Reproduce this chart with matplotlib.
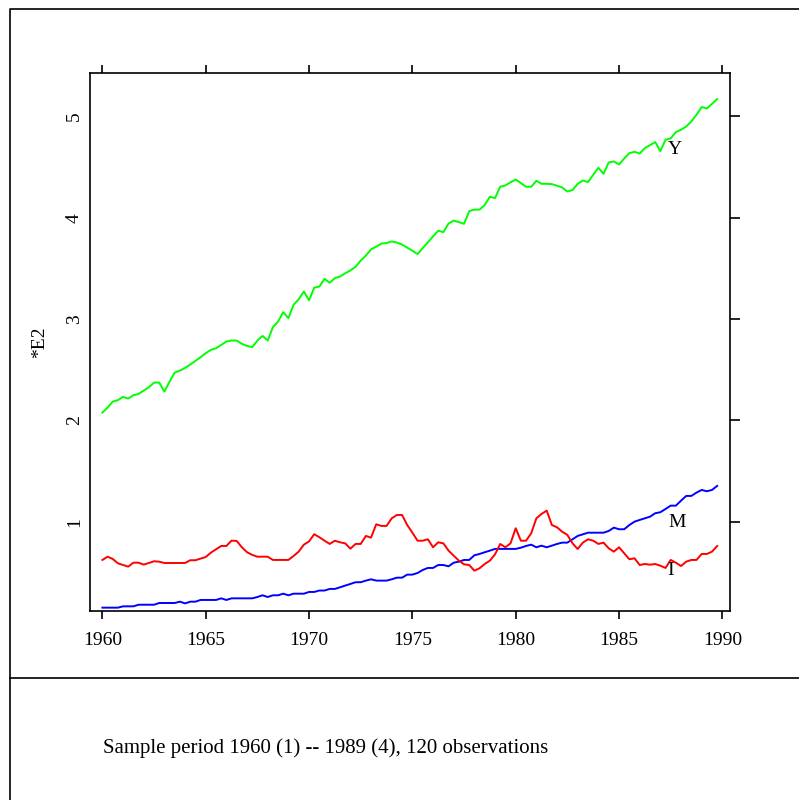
"""Y, M and I series, quarterly 1960-1989"""

import numpy as np
import matplotlib
matplotlib.use("Agg")
import matplotlib.pyplot as plt
from matplotlib.lines import Line2D

START_YEAR = 1960
N_OBS = 120

Y = [2.077, 2.126, 2.185, 2.199, 2.232, 2.215, 2.248, 2.261, 2.294, 2.327,
     2.373, 2.373, 2.284, 2.383, 2.472, 2.491, 2.518, 2.551, 2.587, 2.623,
     2.663, 2.696, 2.712, 2.745, 2.778, 2.788, 2.788, 2.755, 2.735, 2.722,
     2.788, 2.834, 2.788, 2.920, 2.975, 3.068, 3.009, 3.140, 3.196, 3.272,
     3.185, 3.310, 3.321, 3.398, 3.358, 3.404, 3.420, 3.452, 3.480, 3.516,
     3.577, 3.627, 3.688, 3.715, 3.745, 3.750, 3.766, 3.755, 3.735, 3.705,
     3.675, 3.642, 3.700, 3.757, 3.817, 3.872, 3.858, 3.943, 3.972, 3.957,
     3.940, 4.065, 4.080, 4.080, 4.126, 4.207, 4.194, 4.306, 4.319, 4.350,
     4.378, 4.342, 4.306, 4.306, 4.365, 4.335, 4.335, 4.332, 4.316, 4.299,
     4.259, 4.273, 4.335, 4.368, 4.352, 4.424, 4.493, 4.434, 4.546, 4.556,
     4.526, 4.585, 4.638, 4.651, 4.634, 4.688, 4.717, 4.747, 4.658, 4.770,
     4.783, 4.846, 4.869, 4.901, 4.951, 5.017, 5.093, 5.079, 5.125, 5.172]

I = [0.622, 0.654, 0.632, 0.589, 0.572, 0.556, 0.595, 0.595, 0.576, 0.592,
     0.609, 0.605, 0.592, 0.592, 0.592, 0.592, 0.592, 0.619, 0.619, 0.635,
     0.651, 0.694, 0.727, 0.760, 0.760, 0.813, 0.809, 0.747, 0.698, 0.672,
     0.654, 0.654, 0.654, 0.622, 0.622, 0.622, 0.622, 0.661, 0.704, 0.773,
     0.805, 0.876, 0.846, 0.812, 0.780, 0.812, 0.796, 0.786, 0.733, 0.780,
     0.780, 0.859, 0.842, 0.974, 0.958, 0.958, 1.033, 1.066, 1.066, 0.967,
     0.891, 0.812, 0.812, 0.826, 0.747, 0.796, 0.786, 0.714, 0.664, 0.615,
     0.579, 0.572, 0.516, 0.540, 0.582, 0.615, 0.678, 0.780, 0.747, 0.786,
     0.935, 0.812, 0.812, 0.885, 1.033, 1.076, 1.109, 0.967, 0.944, 0.901,
     0.869, 0.786, 0.730, 0.793, 0.826, 0.812, 0.780, 0.793, 0.737, 0.704,
     0.747, 0.688, 0.629, 0.638, 0.572, 0.582, 0.575, 0.582, 0.565, 0.543,
     0.622, 0.595, 0.562, 0.605, 0.622, 0.622, 0.681, 0.681, 0.704, 0.760]

M = [0.151, 0.151, 0.151, 0.151, 0.164, 0.164, 0.164, 0.180, 0.180, 0.180,
     0.180, 0.197, 0.197, 0.197, 0.197, 0.210, 0.193, 0.210, 0.210, 0.227,
     0.227, 0.227, 0.227, 0.243, 0.227, 0.243, 0.243, 0.243, 0.243, 0.243,
     0.256, 0.273, 0.256, 0.273, 0.273, 0.289, 0.273, 0.289, 0.289, 0.289,
     0.306, 0.306, 0.320, 0.320, 0.336, 0.336, 0.352, 0.369, 0.385, 0.402,
     0.402, 0.418, 0.431, 0.418, 0.418, 0.418, 0.431, 0.447, 0.447, 0.477,
     0.477, 0.493, 0.523, 0.543, 0.543, 0.572, 0.572, 0.559, 0.595, 0.605,
     0.622, 0.622, 0.668, 0.681, 0.698, 0.714, 0.731, 0.731, 0.731, 0.731,
     0.731, 0.743, 0.760, 0.773, 0.747, 0.763, 0.747, 0.763, 0.780, 0.793,
     0.793, 0.826, 0.859, 0.875, 0.891, 0.891, 0.891, 0.891, 0.908, 0.941,
     0.925, 0.925, 0.967, 1.000, 1.017, 1.033, 1.049, 1.083, 1.093, 1.125,
     1.158, 1.158, 1.207, 1.254, 1.254, 1.287, 1.313, 1.300, 1.313, 1.353]

X_TICKS = [1960, 1965, 1970, 1975, 1980, 1985, 1990]
Y_TICKS = [1, 2, 3, 4, 5]
NOTE = "Sample period 1960 (1) -- 1989 (4), 120 observations"

plt.rcParams["font.family"] = ["Liberation Serif", "DejaVu Serif"]

t = START_YEAR + np.arange(N_OBS) / 4.0

fig = plt.figure(figsize=(7.99, 8.0), dpi=100)
ax = fig.add_axes([90 / 799, 1 - 611 / 800, 640 / 799, 538 / 800])

ax.plot(t, Y, color="#00ff00", lw=1.4)
ax.plot(t, M, color="#0000ff", lw=1.4)
ax.plot(t, I, color="#ff0000", lw=1.4)

ax.text(1987.7, 4.67, "Y", fontsize=14, ha="center", va="center")
ax.text(1987.8, 0.99, "M", fontsize=14, ha="center", va="center")
ax.text(1987.5, 0.52, "I", fontsize=14, ha="center", va="center")

ax.set_xlim(1959.4, 1990.37)
ax.set_ylim(0.118, 5.429)
ax.set_xticks(X_TICKS)
ax.set_yticks(Y_TICKS)
ax.tick_params(axis="x", direction="out", length=6, width=1.2, top=True,
               bottom=True, labelsize=14, pad=9)
ax.tick_params(axis="y", direction="out", length=7, width=1.2, left=False,
               right=True, labelleft=True, labelright=False, labelsize=14,
               pad=-2)
for lab in ax.get_yticklabels():
    lab.set_rotation(90)
    lab.set_va("center")
for sp in ax.spines.values():
    sp.set_linewidth(1.2)
ax.set_ylabel("*E2", fontsize=14, labelpad=13)

# outer frame and separator
frame_kw = dict(color="black", lw=1.2, transform=fig.transFigure)
fig.add_artist(Line2D([10 / 799, 10 / 799, 1.0], [0.0, 1 - 9 / 800, 1 - 9 / 800], **frame_kw))
fig.add_artist(Line2D([10 / 799, 1.0], [1 - 678 / 800, 1 - 678 / 800], **frame_kw))

fig.text(103 / 799, 1 - 748 / 800, NOTE, fontsize=15, ha="left", va="center")

fig.savefig("out.png", dpi=100)
